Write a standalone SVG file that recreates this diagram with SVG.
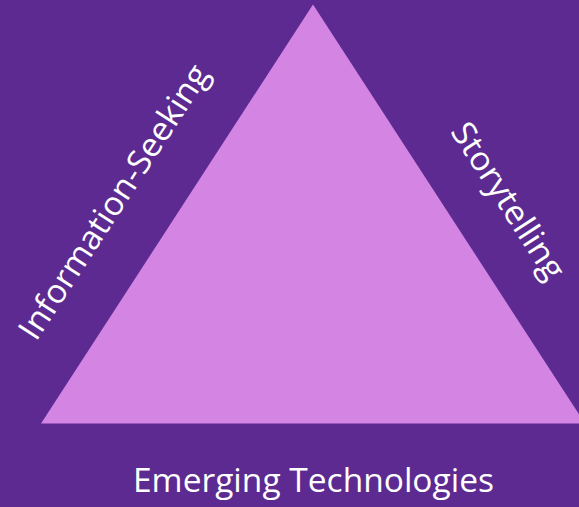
<svg xmlns="http://www.w3.org/2000/svg" width="579" height="507" viewBox="0 0 579 507">
<style>
.lbl{font-family:"Open Sans","Noto Sans","Liberation Sans",sans-serif;font-size:33px;fill:#ffffff;text-anchor:middle}
</style>
<rect x="0" y="0" width="579" height="507" fill="#5C2A91"/>
<g id="triangle">
<polygon points="41,423.5 313,4.5 585,423.5" fill="#D484E3"/>
</g>
<g id="label-bottom">
<text class="lbl" x="313.5" y="492" textLength="361" lengthAdjust="spacingAndGlyphs">Emerging Technologies</text>
</g>
<g id="label-left">
<text class="lbl" transform="translate(114,202) rotate(-57)" x="0" y="11" textLength="320" lengthAdjust="spacingAndGlyphs">Information-Seeking</text>
</g>
<g id="label-right">
<text class="lbl" transform="translate(508,201) rotate(57)" x="0" y="11" textLength="180" lengthAdjust="spacingAndGlyphs">Storytelling</text>
</g>
</svg>
